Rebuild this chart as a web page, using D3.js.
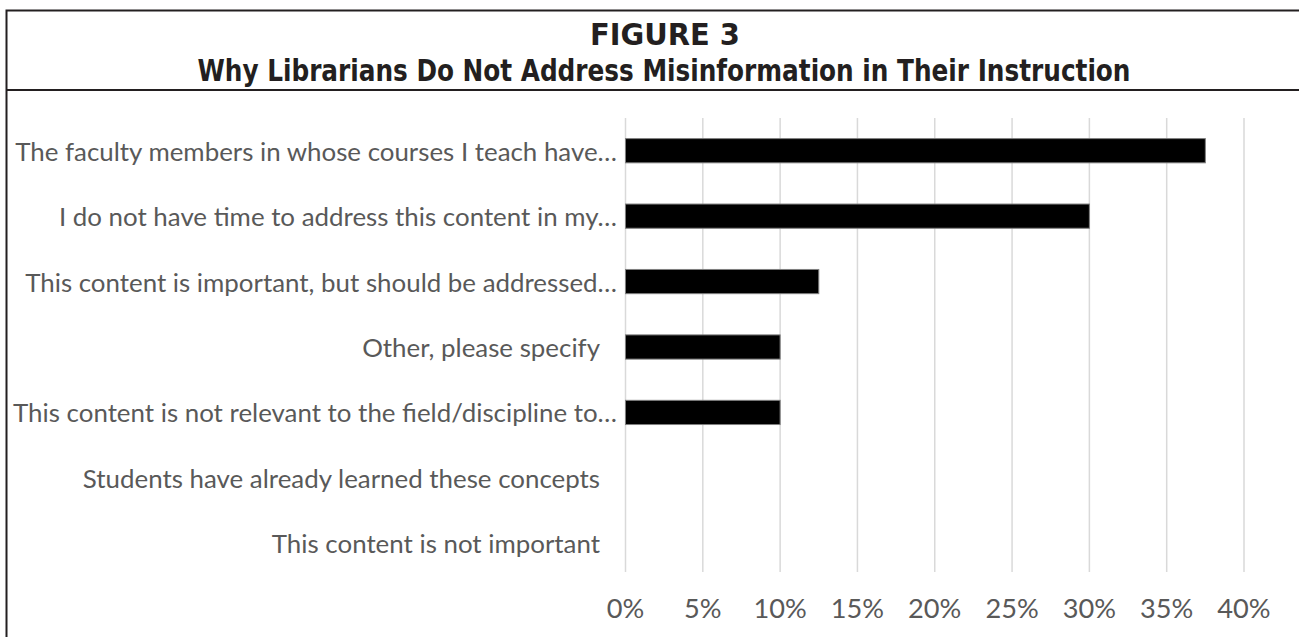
<!DOCTYPE html>
<html>
<head>
<meta charset="utf-8">
<script src="https://cdn.jsdelivr.net/npm/d3@7"></script>
<style>
  body { margin: 0; background: #fff; }
  svg { display: block; }
</style>
</head>
<body>
<svg id="chart" width="1299" height="637"></svg>
<script>
// data
let categories = [
    "The faculty members in whose courses I teach have…",
    "I do not have time to address this content in my…",
    "This content is important, but should be addressed…",
    "Other, please specify",
    "This content is not relevant to the field/discipline to…",
    "Students have already learned these concepts",
    "This content is not important"
];
let values = [0.375, 0.30, 0.125, 0.10, 0.10, 0, 0];
let ticks = [0, 0.05, 0.10, 0.15, 0.20, 0.25, 0.30, 0.35, 0.40];
let titleLines = ["FIGURE 3", "Why Librarians Do Not Address Misinformation in Their Instruction"];

let svg = d3.select("#chart");
let W = 1299, H = 637;
let labelFont = "Lato, 'Open Sans', sans-serif";
let grey = "#595959";

// frame
let frame = svg.append("g").attr("class", "frame")
    .style("stroke", "#231f20").style("stroke-width", 2).style("fill", "none");
frame.append("path").attr("d", "M6.5," + H + " V10.5 H" + W);
frame.append("line").attr("x1", 6.5).attr("x2", W).attr("y1", 90).attr("y2", 90);

// title
let titleFont = "'DejaVu Sans Condensed', 'DejaVu Sans', sans-serif";
svg.append("text")
    .attr("x", 665).attr("y", 45)
    .attr("text-anchor", "middle")
    .attr("textLength", 150).attr("lengthAdjust", "spacingAndGlyphs")
    .style("font-family", titleFont).style("font-weight", "bold")
    .style("font-size", "31px").style("fill", "#231f20")
    .text(titleLines[0]);
svg.append("text")
    .attr("x", 664).attr("y", 81)
    .attr("text-anchor", "middle")
    .attr("textLength", 933).attr("lengthAdjust", "spacingAndGlyphs")
    .style("font-family", titleFont).style("font-weight", "bold")
    .style("font-size", "31px").style("fill", "#231f20")
    .text(titleLines[1]);

// scales
let x = d3.scaleLinear().domain([0, 0.4]).range([625.5, 1244]);
let y = d3.scaleBand().domain(categories).range([118, 576])
    .paddingInner(0.63).paddingOuter(0.315);

// fit label font size so the longest label spans like the original
let probe = svg.append("text").style("font-family", labelFont).style("font-size", "24px")
    .text(categories[0]);
let fs = 24 * 602 / probe.node().getComputedTextLength();
probe.remove();

// gridlines
svg.append("g").attr("class", "grid")
    .selectAll("line").data(ticks).enter()
    .append("line")
    .attr("x1", d => x(d)).attr("x2", d => x(d))
    .attr("y1", 118).attr("y2", 572)
    .style("stroke", "#d9d9d9").style("stroke-width", 1.5);

// bars
svg.append("g").attr("class", "bars")
    .selectAll("rect").data(categories).enter()
    .filter((d, i) => values[i] > 0)
    .append("rect")
    .attr("x", x(0))
    .attr("y", d => y(d))
    .attr("width", d => x(values[categories.indexOf(d)]) - x(0))
    .attr("height", y.bandwidth())
    .style("fill", "#000")
    .style("stroke", "#7f7f7f").style("stroke-width", 1);

// category labels
svg.append("g").attr("class", "ylabels")
    .selectAll("text").data(categories).enter()
    .append("text")
    .attr("x", d => d.endsWith("…") ? 617 : 600)
    .attr("y", d => y(d) + y.bandwidth() / 2)
    .attr("text-anchor", "end")
    .attr("dominant-baseline", "central")
    .style("font-family", labelFont).style("font-size", fs + "px")
    .style("fill", grey)
    .text(d => d);

// x tick labels
svg.append("g").attr("class", "xlabels")
    .selectAll("text").data(ticks).enter()
    .append("text")
    .attr("x", d => x(d))
    .attr("y", 607)
    .attr("text-anchor", "middle")
    .attr("dominant-baseline", "central")
    .style("font-family", labelFont).style("font-size", (fs * 1.05) + "px")
    .style("fill", grey)
    .text(d => d3.format(".0%")(d));
</script>
</body>
</html>
